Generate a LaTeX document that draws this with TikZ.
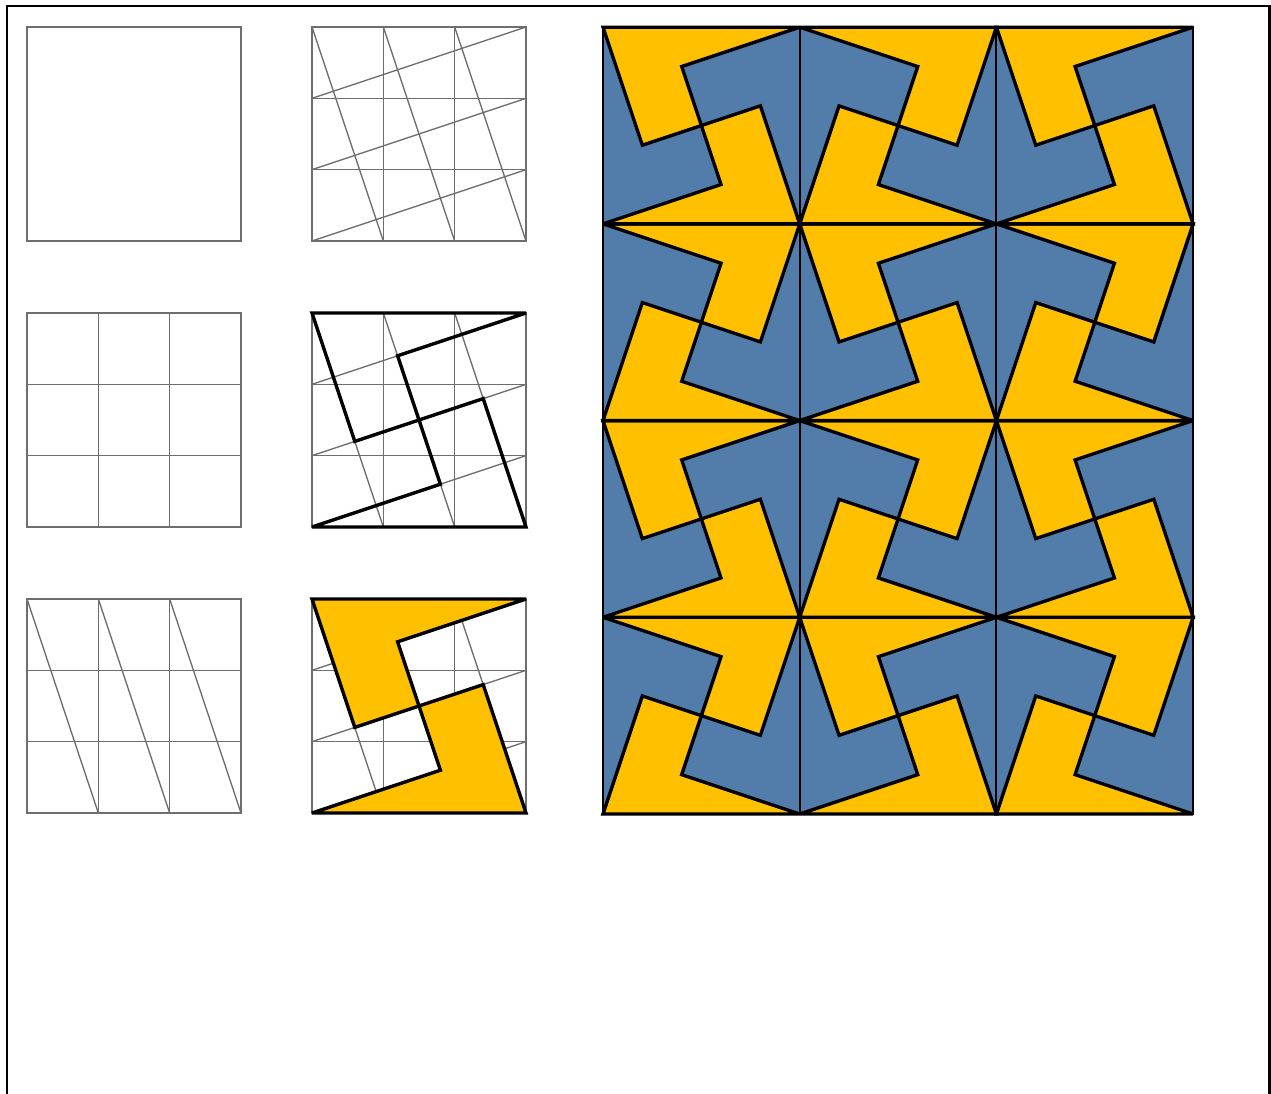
\documentclass[tikz,border=0pt]{standalone}
\usepackage{xcolor}
\definecolor{tileyellow}{RGB}{255,192,0}
\definecolor{tileblue}{RGB}{82,124,170}
\definecolor{gridgray}{RGB}{110,110,110}
\usepackage{tikz}
\newcommand{\tilegrid}{\draw[gridline] (0,0) rectangle (3,3);}
\newcommand{\tilehoriz}{\draw[gridline] (0,1) -- (3,1) (0,2) -- (3,2);}
\newcommand{\tilevert}{\draw[gridline] (1,0) -- (1,3) (2,0) -- (2,3);}
\newcommand{\tiledown}{\draw[gridline] (0,3) -- (1,0) (1,3) -- (2,0) (2,3) -- (3,0);}
\newcommand{\tileup}{\draw[gridline] (0,0) -- (3,1) (0,1) -- (3,2) (0,2) -- (3,3);}
\newcommand{\tileupper}{(0,3) -- (3,3) -- (1.2,2.4) -- (1.5,1.5) -- (0.6,1.2) -- cycle}
\newcommand{\tilelower}{(0,0) -- (3,0) -- (2.4,1.8) -- (1.5,1.5) -- (1.8,0.6) -- cycle}

\begin{document}
\begin{tikzpicture}[
    x=0.02cm, y=0.02cm,
    gridline/.style={draw=gridgray, line width=0.8pt},
    tileline/.style={draw=black, line width=1.9pt, miter limit=3},
    bigline/.style={draw=black, line width=1.9pt, miter limit=3},
    cellline/.style={draw=black, line width=1.1pt},
    sheetline/.style={draw=black, line width=1.3pt}
  ]
    \useasboundingbox (0,0) rectangle (1271,1093);
    \fill[white] (0,0) rectangle (1271,1093);
    \draw[sheetline] (7,-10) -- (7,1087) -- (1269.5,1087) -- (1269.5,-10);

    \begin{scope}[shift={(27,852)}, scale=71.33]
      \tilegrid
    \end{scope}
    \begin{scope}[shift={(27,566)}, scale=71.33]
      \tilegrid \tilehoriz \tilevert
    \end{scope}
    \begin{scope}[shift={(27,280)}, scale=71.33]
      \tilegrid \tilehoriz \tilevert \tiledown
    \end{scope}

    \begin{scope}[shift={(312,852)}, scale=71.33]
      \tilegrid \tilehoriz \tilevert \tiledown \tileup
    \end{scope}
    \begin{scope}[shift={(312,566)}, scale=71.33]
      \tilegrid \tilehoriz \tilevert \tiledown \tileup
      \draw[tileline] \tileupper;
      \draw[tileline] \tilelower;
    \end{scope}
    \begin{scope}[shift={(312,280)}, scale=71.33]
      \tilegrid \tilehoriz \tilevert \tiledown \tileup
      \fill[tileyellow] \tileupper;
      \fill[tileyellow] \tilelower;
      \draw[tileline] \tileupper;
      \draw[tileline] \tilelower;
    \end{scope}

    \foreach \col in {0,1,2} {
      \foreach \row in {0,1,2,3} {
        \pgfmathsetmacro{\flipx}{ifthenelse(mod(\col,2)==0,1,-1)}
        \pgfmathsetmacro{\flipy}{ifthenelse(mod(\row,2)==0,1,-1)}
        \begin{scope}[shift={(603+196.7*\col+98.35,279+196.7*\row+98.35)},
            xscale=65.57*\flipx, yscale=-65.57*\flipy, shift={(-1.5,-1.5)}]
          \fill[tileblue] (0,0) rectangle (3,3);
          \fill[tileyellow] \tileupper;
          \fill[tileyellow] \tilelower;
          \draw[bigline] \tileupper;
          \draw[bigline] \tilelower;
          \draw[cellline] (0,0) rectangle (3,3);
        \end{scope}
      }
    }
  \end{tikzpicture}
\end{document}
